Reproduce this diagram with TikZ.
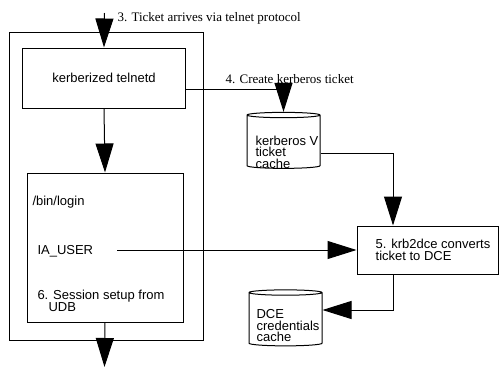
\documentclass[tikz,border=0pt]{standalone}
\usepackage{fontspec}
\setmainfont{Liberation Serif}
\setsansfont{Liberation Sans}
\usetikzlibrary{arrows.meta,shapes.geometric}

\begin{document}
\begin{tikzpicture}[x=1pt, y=-1pt, line width=1pt, >={Triangle[length=29pt,width=18pt]},
  box/.style={draw, font=\sffamily\fontsize{13}{12}\selectfont},
  store/.style={draw, cylinder, shape border rotate=90, aspect=0.8, minimum width=73pt, minimum height=56pt},
  storetext/.style={align=left, inner sep=0pt, font=\sffamily\fontsize{13}{11.5}\selectfont},
  txt/.style={anchor=west, inner sep=0pt, font=\sffamily\fontsize{13}{12}\selectfont},
  note/.style={anchor=west, inner sep=0pt, font=\rmfamily\fontsize{13}{14}\selectfont}]

  \fill[white] (0,0) rectangle (500,367);
  \useasboundingbox (0,0) rectangle (500,367);

  % the host, with telnetd and login inside
  \node[draw, minimum width=194pt, minimum height=308pt] (host) at (106,186) {};
  \node[box, minimum width=163pt, minimum height=60pt] (telnetd) at (104,78) {kerberized telnetd};
  \node[draw, minimum width=156pt, minimum height=149pt] (login) at (105,247.5) {};

  \node[txt] (binlogin) at (32,202) {/bin/login};
  \node[txt] (iauser) at (37,251) {IA\_USER};
  \node[txt, align=left] (session) at (37,301) {6. Session setup from\\\hspace*{11pt}UDB};

  % credential caches and the converter
  \node[store] (krbcache) at (283.5,142.5) {};
  \node[storetext] (krbtext) at (287,152) {kerberos V\\ticket\\cache};
  \node[store] (dcecache) at (285.5,320) {};
  \node[storetext] (dcetext) at (288,326) {DCE\\credentials\\cache};
  \node[box, minimum width=141pt, minimum height=48pt, align=left] (krb2dce) at (427.5,250)
    {\hspace*{11pt}5. krb2dce converts\\\hspace*{11pt}ticket to DCE};

  \coordinate (ticketin) at (104.5,13);
  \coordinate (sessionout) at (104.5,367);
  \coordinate (userout) at (117,250);

  \node[note] (ticketlbl) at (117,18) {3. Ticket arrives via telnet protocol};
  \node[note] (createlbl) at (225,79) {4. Create kerberos ticket};

  \draw[->] (ticketin) -- (telnetd.north);
  \draw[->] (telnetd.south) -- (login.north);
  \draw[->] (login.south) -- (sessionout);
  \draw[->] ([yshift=-11pt]telnetd.east) -| (krbcache.north);
  \draw[->] ([yshift=-10.5pt]krbcache.east) -| ([xshift=-34.5pt]krb2dce.north);
  \draw[->] (userout) -- (krb2dce.west);
  \draw[->] ([xshift=-34.5pt]krb2dce.south) |- ([yshift=10pt]dcecache.east);
\end{tikzpicture}
\end{document}
